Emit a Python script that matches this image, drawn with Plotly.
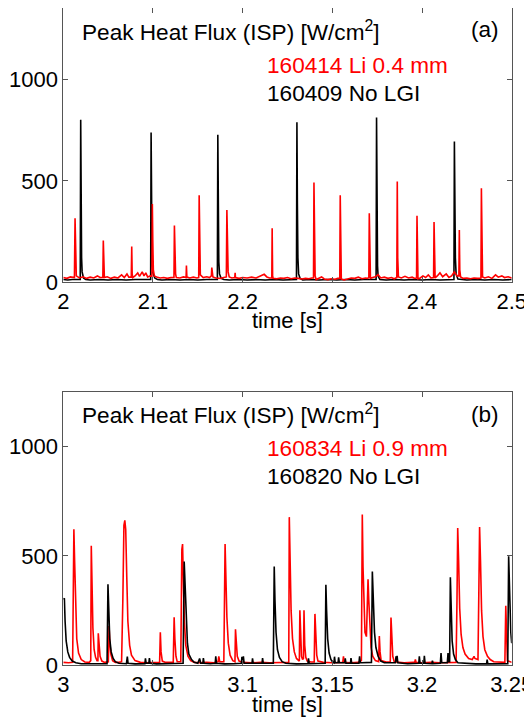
import plotly.graph_objects as go

# ---------------- Data ----------------
# Panel (a): 160414 Li 0.4 mm (red)
a_red_t = [2.000, 2.004, 2.008, 2.0115,
           2.0124, 2.0131, 2.0137, 2.0145,
           2.018, 2.022, 2.026, 2.030, 2.034, 2.038, 2.041,
           2.0441, 2.0446, 2.0451, 2.0458,
           2.049, 2.053, 2.057, 2.061, 2.065, 2.068, 2.071, 2.073,
           2.0758, 2.0763, 2.0768, 2.0775,
           2.080, 2.083, 2.085, 2.088, 2.090, 2.092, 2.094, 2.097,
           2.0988, 2.0993, 2.0998, 2.1004, 2.1015,
           2.104, 2.108, 2.112, 2.116, 2.120,
           2.1234, 2.1239, 2.1244, 2.1252, 2.126,
           2.130, 2.134,
           2.1369, 2.1373, 2.1378,
           2.141, 2.145, 2.149,
           2.151, 2.1515, 2.152, 2.1528,
           2.156, 2.160, 2.163,
           2.1651, 2.1656, 2.166, 2.1668,
           2.170, 2.175, 2.179,
           2.1818, 2.1824, 2.183, 2.1838, 2.185,
           2.188,
           2.1912, 2.1916, 2.192,
           2.196, 2.200, 2.205, 2.210, 2.215, 2.220, 2.224, 2.227, 2.230,
           2.2325, 2.2329, 2.2334, 2.234,
           2.238, 2.242, 2.246, 2.250, 2.254, 2.258, 2.262, 2.266, 2.270, 2.274, 2.277,
           2.279, 2.2795, 2.280, 2.2808, 2.282,
           2.285, 2.288, 2.291, 2.295, 2.299, 2.303, 2.306,
           2.3083, 2.3088, 2.3093, 2.310,
           2.313, 2.317, 2.321, 2.325, 2.329, 2.333, 2.337, 2.339,
           2.3407, 2.3412, 2.3417, 2.3425,
           2.345, 2.348, 2.351, 2.354, 2.358, 2.362, 2.366, 2.369,
           2.3719, 2.3724, 2.3729, 2.3737,
           2.377, 2.381, 2.385, 2.389, 2.392,
           2.3939, 2.3944, 2.3949, 2.3955,
           2.398, 2.401, 2.404, 2.407, 2.410,
           2.4129, 2.4134, 2.4139, 2.4146,
           2.417, 2.420, 2.423, 2.427, 2.430, 2.433, 2.436, 2.439,
           2.4411, 2.4416, 2.4421, 2.443,
           2.446, 2.450, 2.454, 2.458, 2.462, 2.464,
           2.4657, 2.4662, 2.4667, 2.4675,
           2.470, 2.474, 2.478, 2.482, 2.485, 2.489, 2.492, 2.496, 2.500]
a_red_q = [22, 18, 25, 20,
           22, 315, 120, 30,
           20, 26, 18, 24, 20, 30, 22,
           22, 205, 40, 22,
           26, 18, 24, 20, 35, 22, 40, 24,
           25, 175, 40, 22,
           30, 45, 28, 50, 30, 45, 25, 30,
           28, 386, 200, 60, 30,
           25, 20, 22, 18, 22,
           22, 279, 70, 40, 22,
           20, 25,
           22, 81, 25,
           20, 24, 20,
           22, 429, 150, 35,
           22, 26, 22,
           30, 71, 45, 25,
           20, 18, 22,
           25, 356, 200, 50, 25,
           20,
           22, 45, 22,
           18, 22, 20, 24, 20, 30, 38, 25, 20,
           20, 266, 30, 18,
           16, 20, 18, 22, 16, 20, 18, 15, 18, 16, 20,
           20, 492, 220, 30, 12,
           18, 25, 15, 12, 16, 14, 18,
           18, 429, 60, 15,
           10, 14, 20, 18, 24, 16, 20, 18,
           22, 340, 30, 18,
           22, 26, 36, 20, 24, 18, 22, 16,
           22, 497, 120, 25,
           20, 28, 20, 24, 18,
           20, 327, 40, 16,
           20, 30, 22, 35, 20,
           22, 297, 40, 20,
           30, 45, 26, 40, 22, 30, 50, 30,
           30, 257, 60, 25,
           18, 20, 16, 20, 18, 20,
           20, 464, 150, 25,
           20, 26, 18, 35, 24, 30, 22, 26, 20]

# Panel (a): 160409 No LGI (black)
a_blk_t = [2.000, 2.005, 2.010, 2.015, 2.0189,
           2.0194, 2.0199, 2.0204, 2.021, 2.0225, 2.025,
           2.030, 2.040, 2.050, 2.060, 2.070, 2.080, 2.090, 2.0974,
           2.0979, 2.0984, 2.099, 2.100, 2.102, 2.105,
           2.110, 2.120, 2.130, 2.140, 2.150, 2.160, 2.1718,
           2.1723, 2.1728, 2.1734, 2.1742, 2.176, 2.179,
           2.185, 2.195, 2.205, 2.215, 2.225, 2.235, 2.245, 2.2600,
           2.2605, 2.2610, 2.2616, 2.2624, 2.264, 2.267,
           2.275, 2.285, 2.295, 2.305, 2.315, 2.325, 2.335, 2.3488,
           2.3493, 2.3498, 2.3504, 2.351, 2.353,
           2.360, 2.370, 2.380, 2.390, 2.400, 2.410, 2.420, 2.4356,
           2.4361, 2.4366, 2.4372, 2.438, 2.440,
           2.450, 2.460, 2.470, 2.480, 2.490, 2.500]
a_blk_q = [12, 10, 12, 10, 12,
           802, 300, 120, 50, 20, 12,
           10, 12, 10, 12, 10, 12, 10, 12,
           739, 250, 90, 45, 20, 12,
           10, 12, 10, 12, 10, 12, 12,
           728, 300, 100, 40, 18, 12,
           10, 12, 10, 12, 10, 12, 10, 12,
           790, 400, 120, 40, 18, 10,
           12, 10, 12, 10, 12, 10, 12, 12,
           813, 300, 80, 30, 12,
           10, 12, 10, 12, 10, 12, 10, 12,
           695, 350, 120, 40, 15,
           10, 12, 10, 12, 10, 12]

# Panel (b): 160834 Li 0.9 mm (red)
b_red_t = [3.000, 3.003, 3.0052,
           3.0056, 3.0059, 3.0063, 3.0068, 3.0075, 3.0085, 3.010, 3.012,
           3.0145, 3.0153, 3.0156, 3.0160, 3.0165, 3.0172, 3.018, 3.0188,
           3.0193, 3.0195, 3.0199, 3.0205, 3.0215, 3.023,
           3.0251, 3.0255, 3.0259, 3.0265, 3.0275, 3.029,
           3.031, 3.0325, 3.0332, 3.0338, 3.0343, 3.0348, 3.0354, 3.036, 3.037, 3.038, 3.040, 3.043,
           3.046, 3.050, 3.0537, 3.0541, 3.0545, 3.0552,
           3.057, 3.0613, 3.0618, 3.0622, 3.0628, 3.0635,
           3.0655, 3.0661, 3.0665, 3.0669, 3.0675, 3.0683, 3.0695, 3.071, 3.073,
           3.076, 3.080, 3.084, 3.0863, 3.0867, 3.0872,
           3.0895, 3.0899, 3.0902, 3.0906, 3.0912, 3.092, 3.093, 3.0945, 3.0955,
           3.0957, 3.0960, 3.0964, 3.097, 3.098, 3.100,
           3.105, 3.110, 3.115, 3.120, 3.1245,
           3.1257, 3.1260, 3.1264, 3.127, 3.1278, 3.1288, 3.130, 3.1312,
           3.1316, 3.1319, 3.1323, 3.1328, 3.1334, 3.1339, 3.1342, 3.1346, 3.1352, 3.136,
           3.138, 3.1399, 3.1403, 3.1407, 3.1413, 3.142, 3.145,
           3.150, 3.155, 3.1558, 3.1562, 3.1566, 3.160, 3.1645,
           3.1662, 3.1667, 3.1671, 3.1676, 3.1682, 3.169, 3.1695, 3.1699, 3.1703, 3.1709, 3.1716, 3.1725, 3.174,
           3.1758, 3.1762, 3.1766, 3.1772,
           3.180, 3.1823, 3.1827, 3.1831, 3.1837, 3.1845,
           3.190, 3.195, 3.1959, 3.1963, 3.1967, 3.200, 3.205, 3.210, 3.215, 3.219,
           3.2195, 3.2199, 3.2204, 3.221, 3.2218, 3.2228, 3.224, 3.226, 3.228,
           3.229, 3.2295, 3.2312, 3.2317, 3.2321, 3.2326, 3.2332, 3.234, 3.235, 3.2365, 3.238, 3.240,
           3.243, 3.2462, 3.2467, 3.2471, 3.2476, 3.250]
b_red_q = [12, 10, 12,
           600, 622, 480, 250, 120, 55, 25, 14,
           12, 20, 546, 380, 170, 70, 35, 20,
           20, 145, 90, 40, 18, 12,
           15, 179, 110, 50, 20, 12,
           12, 15, 300, 640, 662, 620, 400, 200, 90, 45, 20, 12,
           10, 12, 12, 150, 60, 18,
           12, 12, 219, 120, 40, 15,
           15, 530, 554, 400, 200, 90, 40, 20, 12,
           10, 12, 10, 15, 40, 15,
           15, 540, 554, 420, 220, 100, 45, 20, 15,
           15, 164, 100, 40, 18, 12,
           10, 12, 10, 12, 12,
           12, 677, 500, 250, 120, 60, 30, 18,
           18, 251, 100, 40, 25, 30, 251, 90, 35, 18,
           14, 14, 234, 120, 45, 18, 12,
           10, 12, 12, 40, 12, 10, 12,
           20, 689, 450, 250, 150, 130, 250, 393, 300, 150, 80, 40, 20,
           15, 133, 60, 20,
           14, 14, 217, 110, 40, 15,
           10, 12, 12, 25, 12, 10, 12, 10, 12, 12,
           300, 627, 480, 260, 140, 80, 50, 30, 25,
           40, 30, 25, 350, 632, 480, 250, 130, 70, 40, 25, 15,
           12, 12, 271, 80, 20, 12]

# Panel (b): 160820 No LGI (black)
b_blk_t = [3.000, 3.0006, 3.001, 3.0016, 3.0025, 3.0035, 3.005, 3.007, 3.010, 3.015, 3.020,
           3.0244, 3.0249, 3.0253, 3.0259, 3.0267, 3.0278, 3.029, 3.031,
           3.0352, 3.0357, 3.0361, 3.040, 3.0455, 3.0458, 3.0462, 3.0477, 3.0480, 3.0484,
           3.052, 3.058, 3.063, 3.0668, 3.0674, 3.0678, 3.0684, 3.0692, 3.070, 3.0715, 3.073, 3.075,
           3.0760, 3.0766, 3.0778, 3.0781, 3.0785, 3.082, 3.0847, 3.0850, 3.0854,
           3.090, 3.095, 3.0993, 3.0996, 3.1000, 3.1004, 3.1008, 3.1052, 3.1055, 3.1059, 3.1108, 3.1111, 3.1115,
           3.1171, 3.1176, 3.1180, 3.1186, 3.1194, 3.1205, 3.122, 3.124,
           3.130, 3.1364, 3.1367, 3.1371,
           3.1460, 3.1464, 3.1468, 3.1474, 3.1482, 3.1492, 3.150,
           3.1509, 3.1512, 3.1516, 3.1532, 3.1535, 3.1539, 3.1569, 3.1572, 3.1576, 3.1601, 3.1604, 3.1608,
           3.1648, 3.1652, 3.1656, 3.1663,
           3.1718, 3.1723, 3.1728, 3.1735, 3.1743, 3.1755, 3.177, 3.179,
           3.1852, 3.1855, 3.1858, 3.1861, 3.1865,
           3.192, 3.1982, 3.1985, 3.1989, 3.2010, 3.2013, 3.2017, 3.2055, 3.2058, 3.2062,
           3.2102, 3.2106, 3.2110, 3.2141, 3.2145, 3.2149,
           3.2154, 3.2158, 3.2162, 3.2168, 3.2176, 3.2186, 3.220,
           3.225, 3.230, 3.2360, 3.2363, 3.2367, 3.240, 3.245, 3.2478, 3.2483, 3.2488, 3.2495, 3.250]
b_blk_q = [300, 306, 200, 110, 60, 35, 18, 10, 6, 5, 6,
           6, 370, 250, 120, 60, 30, 15, 8,
           6, 38, 8, 5, 6, 30, 8, 8, 32, 8,
           5, 6, 5, 8, 474, 380, 200, 100, 50, 25, 12, 8,
           30, 8, 8, 32, 8, 6, 8, 40, 8,
           5, 6, 8, 38, 15, 40, 8, 8, 30, 8, 8, 32, 8,
           8, 451, 300, 150, 70, 35, 15, 8,
           5, 6, 30, 6,
           8, 367, 250, 120, 55, 25, 15,
           10, 38, 10, 10, 35, 10, 10, 30, 8, 8, 32, 8,
           8, 40, 10, 10,
           12, 428, 300, 150, 80, 40, 18, 10,
           10, 40, 15, 42, 10,
           6, 8, 40, 8, 8, 42, 8, 6, 20, 6,
           8, 55, 10, 10, 55, 15,
           15, 402, 250, 110, 50, 25, 10,
           6, 5, 5, 25, 5, 6, 5, 6, 498, 300, 150, 100]

a_xticks = [2.0, 2.1, 2.2, 2.3, 2.4, 2.5]
a_xticklabels = ["2", "2.1", "2.2", "2.3", "2.4", "2.5"]
b_xticks = [3.0, 3.05, 3.1, 3.15, 3.2, 3.25]
b_xticklabels = ["3", "3.05", "3.1", "3.15", "3.2", "3.25"]
yticks = [0, 500, 1000]
yticklabels = ["0", "500", "1000"]

# ---------------- Figure ----------------
# The page body has an 8 px margin, so the figure is drawn 8 px smaller and
# all target positions (in window pixels) are shifted by that offset.
OFF = 8
W, H = 532 - OFF, 725 - OFF
FONT = "Liberation Sans, Arial, Helvetica, sans-serif"
AXC = "#555555"
TICKSIZE = 22
TEXTSIZE = 22.6

def px_x(p):
    return min(1.0, max(0.0, (p - OFF) / W))

def px_y(p):
    return min(1.0, max(0.0, 1 - (p - OFF) / H))

fig = go.Figure()
fig.add_trace(go.Scatter(x=a_blk_t, y=a_blk_q, mode="lines", line=dict(color="black", width=1.6),
                         xaxis="x", yaxis="y", showlegend=False))
fig.add_trace(go.Scatter(x=a_red_t, y=a_red_q, mode="lines", line=dict(color="#ff0000", width=1.6),
                         xaxis="x", yaxis="y", showlegend=False))
fig.add_trace(go.Scatter(x=b_red_t, y=b_red_q, mode="lines", line=dict(color="#ff0000", width=1.6),
                         xaxis="x2", yaxis="y2", showlegend=False))
fig.add_trace(go.Scatter(x=b_blk_t, y=b_blk_q, mode="lines", line=dict(color="black", width=1.6),
                         xaxis="x2", yaxis="y2", showlegend=False))

xdom = [px_x(63.3), px_x(511.7)]
common_ax = dict(showline=True, linecolor=AXC, linewidth=1, mirror="ticks", ticks="inside",
                 ticklen=5, tickcolor=AXC, tickwidth=1, showgrid=False, zeroline=False,
                 automargin=False, ticklabeloverflow="allow",
                 tickfont=dict(family=FONT, size=TICKSIZE, color="black"))

fig.update_layout(
    template="none",
    width=W, height=H, margin=dict(l=0, r=0, t=0, b=0, pad=0, autoexpand=False),
    paper_bgcolor="white", plot_bgcolor="white",
    xaxis=dict(domain=xdom, range=[2, 2.5], tickvals=a_xticks, ticktext=a_xticklabels, anchor="y",
               **common_ax),
    yaxis=dict(domain=[px_y(282), px_y(8)], range=[0, 1355], tickvals=yticks, ticktext=yticklabels,
               anchor="x", **common_ax),
    xaxis2=dict(domain=xdom, range=[3, 3.25], tickvals=b_xticks, ticktext=b_xticklabels, anchor="y2",
                **common_ax),
    yaxis2=dict(domain=[px_y(665), px_y(392)], range=[0, 1250], tickvals=yticks, ticktext=yticklabels,
                anchor="x2", **common_ax),
)

def ann(text, x, y, color="black", xanchor="left", size=TEXTSIZE):
    fig.add_annotation(text=text, x=px_x(x), y=px_y(y), xref="paper", yref="paper",
                       xanchor=xanchor, yanchor="middle", showarrow=False,
                       font=dict(family=FONT, size=size, color=color))

ann("Peak Heat Flux (ISP) [W/cm<sup>2</sup>]", 80, 31)
ann("(a)", 501, 29, xanchor="right")
ann("160414 Li 0.4 mm", 265, 66, color="#ff0000")
ann("160409 No LGI", 265, 94)
ann("time [s]", 287.5, 320, xanchor="center", size=TICKSIZE)

ann("Peak Heat Flux (ISP) [W/cm<sup>2</sup>]", 80, 414)
ann("(b)", 501, 414, xanchor="right")
ann("160834 Li 0.9 mm", 265, 448, color="#ff0000")
ann("160820 No LGI", 265, 476)
ann("time [s]", 287.5, 704, xanchor="center", size=TICKSIZE)

fig.write_html("out.html")
